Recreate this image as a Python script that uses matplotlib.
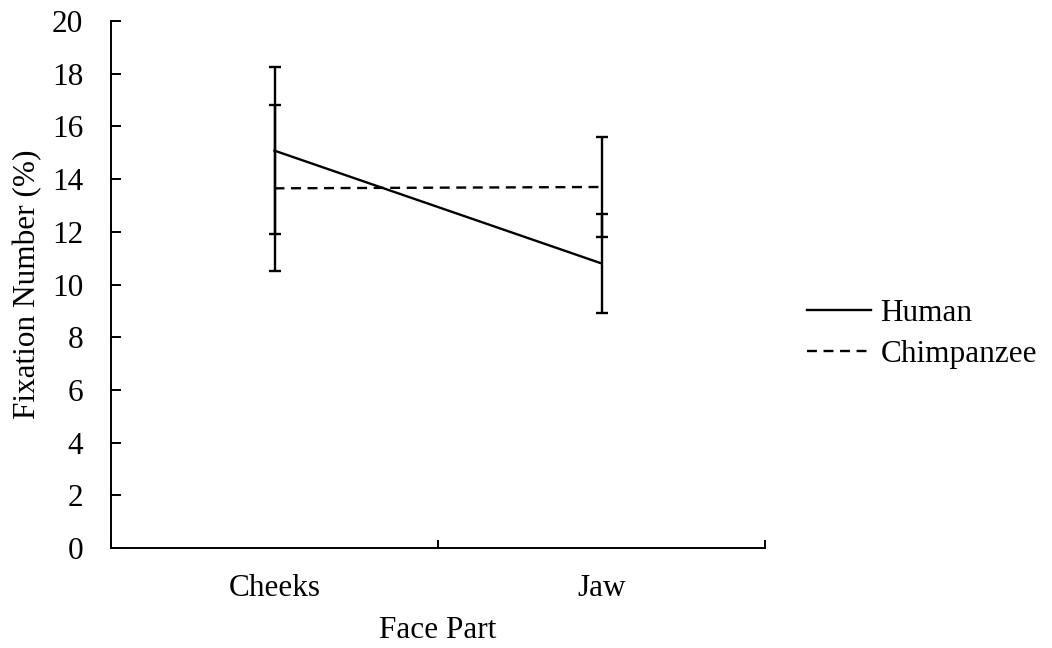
import matplotlib
matplotlib.use("Agg")
import matplotlib.pyplot as plt
from matplotlib.lines import Line2D

categories = ["Cheeks", "Jaw"]
human_mean = [15.08, 10.80]
human_err = [3.17, 1.88]
chimp_mean = [13.65, 13.70]
chimp_err = [3.15, 1.89]
series_labels = ["Human", "Chimpanzee"]

plt.rcParams['font.family'] = ['Liberation Serif', 'DejaVu Serif']
FS = 22.5
LW = 1.7
DASH = (0, (4.2, 2.8))

fig = plt.figure(figsize=(10.52, 6.48), dpi=100)
ax = fig.add_axes([111/1052, 100/648, (765-111)/1052, (548-21)/648])

x = list(range(len(categories)))
ax.errorbar(x, human_mean, yerr=human_err, color='black', lw=LW, ls='-',
            capsize=4.3, capthick=LW, elinewidth=LW, label=series_labels[0])
ax.errorbar(x, chimp_mean, yerr=chimp_err, color='black', lw=LW, ls=DASH,
            capsize=4.3, capthick=LW, elinewidth=LW, label=series_labels[1])

ax.set_xlim(-0.5, 1.5)
ax.set_ylim(0, 20)
ax.set_yticks(range(0, 21, 2))
ax.set_xticks(x)
ax.set_xticklabels(categories)
ax.tick_params(axis='x', length=0, labelsize=FS, pad=19)
ax.set_xticks([-0.5, 0.5, 1.5], minor=True)
ax.tick_params(axis='x', which='minor', direction='in', length=6, width=1.4)
ax.tick_params(axis='y', direction='in', length=7, width=1.4, labelsize=FS, pad=20)
for s in ['top', 'right']:
    ax.spines[s].set_visible(False)
for s in ['left', 'bottom']:
    ax.spines[s].set_linewidth(1.4)

ax.set_xlabel('Face Part', fontsize=FS, labelpad=9)
ax.set_ylabel('Fixation Number (%)', fontsize=FS, labelpad=7)

h = [Line2D([], [], color='black', lw=LW, ls='-'),
     Line2D([], [], color='black', lw=LW, ls=DASH)]
fig.legend(h, series_labels, loc='center left', bbox_to_anchor=(807/1052, 1 - 334/648),
           frameon=False, fontsize=FS, handlelength=2.05, handletextpad=0.3,
           labelspacing=0.4, borderpad=0, borderaxespad=0)

fig.savefig('out.png', dpi=100)
